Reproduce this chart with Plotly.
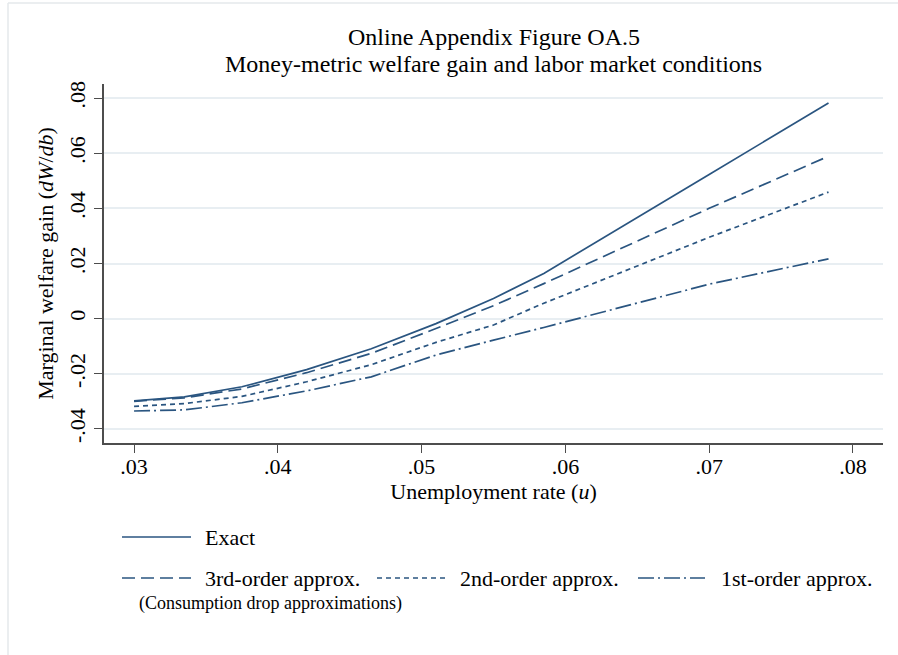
import plotly.graph_objects as go

# ---- data ----
u = [0.0300, 0.0335, 0.0375, 0.0420, 0.0465, 0.0510, 0.0550, 0.0585, 0.0700, 0.0783]
exact = [-0.0298, -0.0284, -0.0247, -0.0185, -0.0109, -0.0018, 0.0073, 0.0164, 0.0523, 0.0782]
third = [-0.0300, -0.0287, -0.0255, -0.0196, -0.0126, -0.0036, 0.0047, 0.0127, 0.0400, 0.0589]
second = [-0.0318, -0.0308, -0.0282, -0.0229, -0.0167, -0.0086, -0.0023, 0.0056, 0.0295, 0.0459]
first = [-0.0335, -0.0331, -0.0305, -0.0262, -0.0211, -0.0132, -0.0078, -0.0032, 0.0125, 0.0217]

series_names = ["Exact", "3rd-order approx.", "2nd-order approx.", "1st-order approx."]
x_ticks = [0.03, 0.04, 0.05, 0.06, 0.07, 0.08]
x_ticklabels = [".03", ".04", ".05", ".06", ".07", ".08"]
y_ticks = [-0.04, -0.02, 0.0, 0.02, 0.04, 0.06, 0.08]
y_ticklabels = ["-.04", "-.02", "0", ".02", ".04", ".06", ".08"]

# ---- style ----
W, H = 898, 655
ML, MR, MT, MB = 104, 15, 84, 212
PW, PH = W - ML - MR, H - MT - MB
COLOR = "#2a5580"
LW = 1.7
FONT = "Liberation Serif, Times New Roman, serif"
dashes = ["solid", "13px,6px", "5px,4px", "16px,4px,2px,4px"]


def px_x(px):
    return (px - ML) / PW


def px_y(py):
    return (H - MB - py) / PH


fig = go.Figure()
for name, ys, d in zip(series_names, [exact, third, second, first], dashes):
    fig.add_trace(go.Scatter(x=u, y=ys, mode="lines", name=name,
                             line=dict(color=COLOR, width=LW, dash=d),
                             showlegend=False))

shapes = []
annotations = []

# outer light frame (top and left edges visible)
shapes.append(dict(type="line", xref="paper", yref="paper", x0=px_x(8), x1=px_x(W + 5),
                   y0=px_y(3), y1=px_y(3), line=dict(color="#e4e8eb", width=1.5)))
shapes.append(dict(type="line", xref="paper", yref="paper", x0=px_x(8), x1=px_x(8),
                   y0=px_y(3), y1=px_y(H + 5), line=dict(color="#e4e8eb", width=1.5)))

# manual legend
leg_items = [
    (series_names[0], dashes[0], 122, 191, 203, 537),
    (series_names[1], dashes[1], 122, 191, 203, 578),
    (series_names[2], dashes[2], 377, 446, 458, 578),
    (series_names[3], dashes[3], 638, 705, 719, 578),
]
for name, d, xs0, xs1, xt, yy in leg_items:
    shapes.append(dict(type="line", xref="paper", yref="paper", x0=px_x(xs0), x1=px_x(xs1),
                       y0=px_y(yy), y1=px_y(yy), line=dict(color=COLOR, width=LW, dash=d)))
    annotations.append(dict(text=name, xref="paper", yref="paper", x=px_x(xt), y=px_y(yy),
                            xanchor="left", yanchor="middle", showarrow=False,
                            font=dict(family=FONT, size=22, color="black")))
annotations.append(dict(text="(Consumption drop approximations)", xref="paper", yref="paper",
                        x=px_x(137), y=px_y(603), xanchor="left", yanchor="middle",
                        showarrow=False, font=dict(family=FONT, size=18, color="black")))

# two-line title
annotations.append(dict(text="Online Appendix Figure OA.5", xref="paper", yref="paper",
                        x=0.5, y=px_y(37.5), xanchor="center", yanchor="middle", showarrow=False,
                        font=dict(family=FONT, size=24, color="black")))
annotations.append(dict(text="Money-metric welfare gain and labor market conditions",
                        xref="paper", yref="paper", x=0.5, y=px_y(64), xanchor="center",
                        yanchor="middle", showarrow=False,
                        font=dict(family=FONT, size=24, color="black")))

fig.update_layout(
    width=W, height=H,
    margin=dict(l=ML, r=MR, t=MT, b=MB, autoexpand=False),
    paper_bgcolor="white", plot_bgcolor="white",
    font=dict(family=FONT, color="black"),
    shapes=shapes, annotations=annotations,
    xaxis=dict(range=[0.02791, 0.08209], tickvals=x_ticks, ticktext=x_ticklabels,
               showgrid=False, zeroline=False, showline=True, linecolor="#4d4d4d",
               linewidth=1.6, ticks="outside", ticklen=8, tickwidth=1.2, tickcolor="#4d4d4d",
               ticklabelstandoff=-5,
               tickfont=dict(family=FONT, size=22, color="black"),
               title=dict(text="Unemployment rate (<i>u</i>)", standoff=1,
                          font=dict(family=FONT, size=22, color="black")),
               automargin=False),
    yaxis=dict(range=[-0.0451, 0.0851], tickvals=y_ticks, ticktext=y_ticklabels,
               showgrid=True, gridcolor="#e8eef2", gridwidth=1.5, zeroline=False,
               showline=True, linecolor="#4d4d4d", linewidth=1.6, ticks="outside",
               ticklen=8, tickwidth=1.2, tickcolor="#4d4d4d", tickangle=-90,
               tickfont=dict(family=FONT, size=22, color="black"),
               title=dict(text="Marginal welfare gain (<i>dW</i>/<i>db</i>)", standoff=6,
                          font=dict(family=FONT, size=22, color="black")),
               automargin=False),
)

fig.write_html("out.html", config={"displayModeBar": False},
               post_script="document.body.style.margin='0';")
